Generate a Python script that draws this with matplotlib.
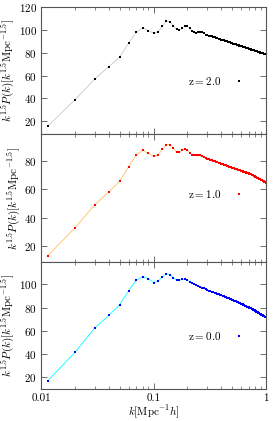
import matplotlib
matplotlib.use('Agg')
import matplotlib.pyplot as plt
from matplotlib.ticker import FixedLocator, NullFormatter

plt.rcParams['font.family'] = 'serif'
plt.rcParams['font.serif'] = ['cmr10', 'DejaVu Serif']
plt.rcParams['mathtext.fontset'] = 'cm'
plt.rcParams['axes.formatter.use_mathtext'] = True

# wavenumbers of the measured points
k = [0.0115, 0.02, 0.03, 0.04, 0.05, 0.06, 0.07, 0.08, 0.09, 0.10,
     0.11, 0.12, 0.13, 0.14, 0.15, 0.16, 0.17, 0.18, 0.19, 0.20,
     0.21, 0.22, 0.23, 0.24, 0.25, 0.26, 0.27, 0.28, 0.29, 0.30,
     0.31, 0.32, 0.33, 0.34, 0.35, 0.36, 0.37, 0.38, 0.39, 0.40,
     0.41, 0.42, 0.43, 0.44, 0.45, 0.46, 0.47, 0.48, 0.49, 0.50,
     0.51, 0.52, 0.53, 0.54, 0.55, 0.56, 0.57, 0.58, 0.59, 0.60,
     0.61, 0.62, 0.63, 0.64, 0.65, 0.66, 0.67, 0.68, 0.69, 0.70,
     0.71, 0.72, 0.73, 0.74, 0.75, 0.76, 0.77, 0.78, 0.79, 0.80,
     0.81, 0.82, 0.83, 0.84, 0.85, 0.86, 0.87, 0.88, 0.89, 0.90,
     0.91, 0.92, 0.93, 0.94, 0.95, 0.96, 0.97, 0.98, 0.99, 1.00]

# k^1.5 P(k) at z = 2.0
pk_z2 = [15.7, 38.7, 57.0, 67.8, 76.3, 88.5, 97.8, 101.9, 99.5, 97.0,
         98.3, 103.3, 107.7, 107.2, 103.6, 100.4, 99.6, 101.6, 103.3, 103.2,
         101.3, 98.8, 97.9, 97.6, 97.8, 98.3, 98.0, 97.0, 96.0, 95.3,
         95.0, 94.8, 94.4, 94.0, 93.5, 93.1, 92.7, 92.4, 92.0, 91.6,
         91.3, 90.9, 90.6, 90.3, 89.9, 89.6, 89.3, 89.0, 88.7, 88.4,
         88.1, 87.9, 87.6, 87.3, 87.1, 86.8, 86.6, 86.3, 86.1, 85.8,
         85.6, 85.4, 85.1, 84.9, 84.7, 84.5, 84.2, 84.0, 83.8, 83.6,
         83.4, 83.2, 83.0, 82.8, 82.6, 82.4, 82.2, 82.1, 81.9, 81.7,
         81.5, 81.3, 81.2, 81.0, 80.8, 80.7, 80.5, 80.3, 80.2, 80.0,
         79.9, 79.7, 79.5, 79.4, 79.2, 79.1, 78.9, 78.8, 78.6, 78.5]

# k^1.5 P(k) at z = 1.0
pk_z1 = [13.3, 32.9, 49.0, 58.2, 65.7, 75.9, 84.1, 87.4, 85.2, 83.2,
         84.2, 88.3, 91.5, 91.5, 89.0, 86.2, 86.0, 87.6, 88.3, 87.6,
         85.7, 84.1, 83.8, 83.8, 83.9, 84.0, 83.3, 82.5, 81.9, 81.3,
         81.0, 80.7, 80.3, 80.0, 79.6, 79.3, 78.9, 78.6, 78.3, 78.0,
         77.7, 77.4, 77.1, 76.8, 76.6, 76.3, 76.0, 75.8, 75.5, 75.3,
         75.0, 74.8, 74.6, 74.3, 74.1, 73.9, 73.7, 73.5, 73.3, 73.1,
         72.9, 72.7, 72.5, 72.3, 72.1, 71.9, 71.7, 71.5, 71.4, 71.2,
         71.0, 70.8, 70.7, 70.4, 70.2, 69.9, 69.7, 69.4, 69.2, 68.9,
         68.7, 68.4, 68.2, 68.0, 67.8, 67.5, 67.3, 67.1, 66.9, 66.6,
         66.4, 66.2, 66.0, 65.8, 65.6, 65.4, 65.2, 65.0, 64.8, 64.6]

# k^1.5 P(k) at z = 0.0
pk_z0 = [17.0, 41.5, 62.4, 73.3, 82.5, 94.5, 103.5, 106.7, 105.0, 101.5,
         103.0, 106.4, 109.3, 108.2, 105.8, 103.8, 103.5, 104.4, 104.4, 103.8,
         102.3, 101.2, 100.3, 99.6, 98.8, 98.0, 97.3, 96.6, 95.9, 95.3,
         94.7, 94.2, 93.7, 93.2, 92.7, 92.3, 91.8, 91.4, 90.9, 90.5,
         90.1, 89.7, 89.3, 88.9, 88.6, 88.2, 87.9, 87.5, 87.1, 86.7,
         86.4, 86.0, 85.6, 85.3, 84.9, 84.6, 84.3, 83.9, 83.6, 83.3,
         83.0, 82.7, 82.4, 82.1, 81.8, 81.5, 81.2, 80.9, 80.7, 80.4,
         80.1, 79.9, 79.6, 79.3, 78.9, 78.6, 78.2, 77.9, 77.6, 77.2,
         76.9, 76.6, 76.3, 76.0, 75.7, 75.4, 75.1, 74.8, 74.5, 74.2,
         73.9, 73.6, 73.4, 73.1, 72.8, 72.5, 72.3, 72.0, 71.8, 71.5]

panels = [
    ('z=2.0', pk_z2, '#c8c8c8', 'black', (8.3, 120), [20, 40, 60, 80, 100, 120], 0.42),
    ('z=1.0', pk_z1, '#ffc060', 'red', (9.0, 98.6), [20, 40, 60, 80], 0.53),
    ('z=0.0', pk_z0, 'cyan', 'blue', (9.8, 119.6), [20, 40, 60, 80, 100], 0.415),
]

ylabel = r'$k^{1.5}P(k)[k^{1.5}\mathrm{Mpc}^{-1.5}]$'
spine_col = '#555555'

fig, axes = plt.subplots(3, 1, figsize=(2.74, 4.21), dpi=100, sharex=True)
plt.subplots_adjust(left=0.15, right=0.971, top=0.983, bottom=0.076, hspace=0)

for ax, (label, vals, lcol, mcol, ylim, yticks, ypos) in zip(axes, panels):
    ax.plot(k, vals, color=lcol, linewidth=0.6)
    ax.plot(k, vals, 's', color=mcol, markersize=2.0, markeredgewidth=0,
            label=r'$\mathrm{' + label + '}$')
    ax.set_xscale('log')
    ax.set_xlim(0.01, 1)
    ax.set_ylim(*ylim)
    ax.set_yticks(yticks)
    ax.set_ylabel(ylabel, fontsize=8, labelpad=1)
    ax.tick_params(which='both', direction='in', top=True, right=True,
                   labelsize=8, color=spine_col, pad=3)
    ax.tick_params(which='major', length=4, width=0.6)
    ax.tick_params(which='minor', length=2, width=0.5)
    for s in ax.spines.values():
        s.set_color(spine_col)
        s.set_linewidth(0.8)
    ax.legend(loc='center right', bbox_to_anchor=(0.975, ypos), frameon=False,
              markerfirst=False, numpoints=1, fontsize=8, handletextpad=0.6,
              markerscale=1.0)

axes[-1].xaxis.set_major_locator(FixedLocator([0.01, 0.1, 1]))
axes[-1].set_xticklabels(['0.01', '0.1', '1'])
axes[-1].xaxis.set_minor_formatter(NullFormatter())
axes[-1].set_xlabel(r'$k[\mathrm{Mpc}^{-1}h]$', fontsize=8, labelpad=1)

fig.savefig('out.png', dpi=100)
